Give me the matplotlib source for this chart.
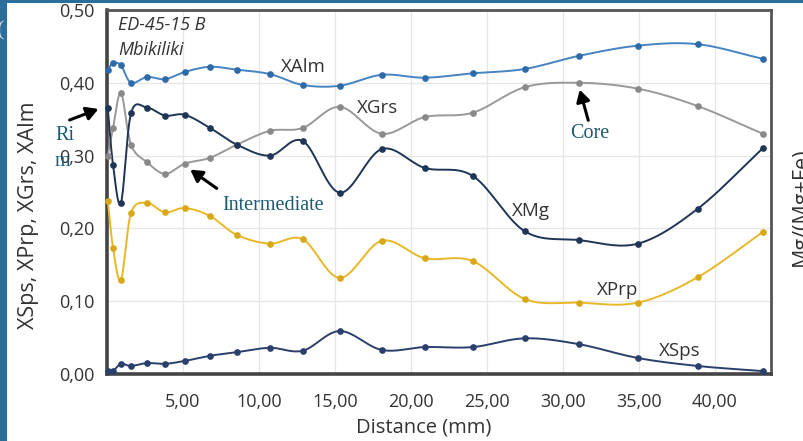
import numpy as np
import matplotlib
matplotlib.use("Agg")
import matplotlib.pyplot as plt
from matplotlib.patches import Rectangle

# ---- data ----
distance = [0.05, 0.4, 0.92, 1.58, 2.63, 3.82, 5.13, 6.78, 8.55, 10.72,
            12.89, 15.33, 18.09, 20.92, 24.08, 27.5, 31.05, 34.93, 38.88, 43.16]
x_alm = [0.418, 0.427, 0.424, 0.400, 0.408, 0.405, 0.415, 0.422, 0.418, 0.412,
         0.397, 0.396, 0.411, 0.407, 0.413, 0.419, 0.437, 0.451, 0.453, 0.433]
x_grs = [0.300, 0.338, 0.386, 0.315, 0.291, 0.275, 0.289, 0.297, 0.315, 0.334,
         0.338, 0.367, 0.330, 0.353, 0.359, 0.394, 0.400, 0.392, 0.368, 0.330]
x_mg = [0.365, 0.287, 0.235, 0.358, 0.366, 0.355, 0.356, 0.338, 0.315, 0.300,
        0.320, 0.249, 0.309, 0.283, 0.272, 0.196, 0.184, 0.179, 0.227, 0.310]
x_prp = [0.238, 0.173, 0.129, 0.221, 0.235, 0.222, 0.228, 0.217, 0.191, 0.179,
         0.185, 0.132, 0.183, 0.159, 0.155, 0.103, 0.098, 0.098, 0.133, 0.195]
x_sps = [0.004, 0.004, 0.014, 0.011, 0.015, 0.014, 0.018, 0.025, 0.030, 0.036,
         0.032, 0.059, 0.033, 0.037, 0.037, 0.049, 0.041, 0.022, 0.011, 0.004]
x_ticks = [5, 10, 15, 20, 25, 30, 35, 40]
x_tick_labels = ["5,00", "10,00", "15,00", "20,00", "25,00", "30,00", "35,00", "40,00"]
y_ticks = [0.0, 0.1, 0.2, 0.3, 0.4, 0.5]
y_tick_labels = ["0,00", "0,10", "0,20", "0,30", "0,40", "0,50"]

W, H = 804, 441
fig = plt.figure(figsize=(W / 100, H / 100), dpi=100)
fig.patch.set_facecolor("white")
blue = "#2a6e9c"
fig.patches.append(Rectangle((0, 0), 7 / W, 1, transform=fig.transFigure,
                             facecolor=blue, edgecolor="none", zorder=0))
fig.patches.append(Rectangle((0, 1 - 3 / H), 1, 3 / H, transform=fig.transFigure,
                             facecolor=blue, edgecolor="none", zorder=0))
fig.text(-3 / W, 1 - 31 / H, "(", color="#d8e4ee", fontsize=16, ha="left", va="center",
         family="Liberation Serif")

L, R, T, B = 107, 771, 10, 374
ax = fig.add_axes([L / W, 1 - B / H, (R - L) / W, (B - T) / H])
XMAX = 43.7
ax.set_xlim(0, XMAX)
ax.set_ylim(0, 0.5)

sx = (R - L) / XMAX
sy = (B - T) / 0.5


def smooth(xs, ys, n=20):
    P = np.column_stack([np.asarray(xs) * sx, np.asarray(ys) * sy])
    P = np.vstack([P[0] * 2 - P[1], P, P[-1] * 2 - P[-2]])
    out = []
    for i in range(1, len(P) - 2):
        p0, p1, p2, p3 = P[i - 1], P[i], P[i + 1], P[i + 2]
        t = np.linspace(0, 1, n)[:, None]
        c = 0.5 * ((2 * p1) + (-p0 + p2) * t + (2 * p0 - 5 * p1 + 4 * p2 - p3) * t ** 2
                   + (-p0 + 3 * p1 - 3 * p2 + p3) * t ** 3)
        out.append(c)
    C = np.vstack(out)
    return C[:, 0] / sx, C[:, 1] / sy


series = [
    (x_alm, "#4583c2", "#2f6aa8"),
    (x_grs, "#9a9898", "#8a8888"),
    (x_mg, "#1f3556", "#1f3556"),
    (x_prp, "#e8b828", "#d9a818"),
    (x_sps, "#2a3f6c", "#2a3f6c"),
]
for ys, lc, mc in series:
    xx, yy = smooth(distance, ys)
    ax.plot(xx, yy, color=lc, lw=1.4, zorder=3, solid_capstyle="round")
    ax.plot(distance, ys, "o", ms=3.8, color=mc, zorder=4, clip_on=False)

ax.set_xticks(x_ticks)
ax.set_xticklabels(x_tick_labels)
ax.set_yticks(y_ticks)
ax.set_yticklabels(y_tick_labels)
ax.tick_params(axis="y", length=0, labelsize=13, labelcolor="#333333", pad=9)
ax.tick_params(axis="x", length=0, labelsize=13, labelcolor="#333333", pad=14)
for lab in ax.get_xticklabels() + ax.get_yticklabels():
    lab.set_family("Open Sans")
ax.grid(True, color="#e6e6e6", lw=0.9)
ax.set_axisbelow(True)
for s in ["top", "right"]:
    ax.spines[s].set_color("#555555")
    ax.spines[s].set_linewidth(2.0)
for s in ["left", "bottom"]:
    ax.spines[s].set_color("#444444")
    ax.spines[s].set_linewidth(2.6)

fig.text(424 / W, 1 - 427 / H, "Distance (mm)", ha="center", va="center",
         fontsize=14.5, color="#333333", family="Open Sans")
fig.text(29 / W, 1 - 215 / H, "XSps, XPrp, XGrs, XAlm", rotation=90, ha="center", va="center",
         fontsize=15.5, color="#333333", family="Open Sans")
fig.text(801 / W, 1 - 207 / H, "Mg/(Mg+Fe)", rotation=90, ha="center", va="center",
         fontsize=15.5, color="#333333", family="Open Sans")

fig.text(118 / W, 1 - 25 / H, "ED-45-15 B", ha="left", va="center",
         fontsize=13, style="italic", color="#333333", family="Open Sans")
fig.text(118 / W, 1 - 50 / H, "Mbikiliki", ha="left", va="center",
         fontsize=13, style="italic", color="#333333", family="Open Sans")

lab_kw = dict(fontsize=13.5, color="#333333", family="Open Sans", ha="center", va="center", zorder=5)
ax.text(12.95, (374 - 67) / 728, "XAlm", **lab_kw)
ax.text(17.8, (374 - 108) / 728, "XGrs", **lab_kw)
ax.text(27.9, (374 - 211) / 728, "XMg", **lab_kw)
ax.text(33.6, (374 - 290) / 728, "XPrp", **lab_kw)
ax.text(37.7, (374 - 351) / 728, "XSps", **lab_kw)

teal = "#1b5a72"
ann_kw = dict(fontsize=14.5, color=teal, family="Liberation Serif")
fig.text(55 / W, 1 - 135 / H, "Ri", ha="left", va="center", **ann_kw)
fig.text(55 / W, 1 - 162 / H, "m", ha="left", va="center", **ann_kw)
fig.text(222 / W, 1 - 205 / H, "Intermediate", ha="left", va="center", **ann_kw)
fig.text(570 / W, 1 - 133 / H, "Core", ha="left", va="center", **ann_kw)

arrow = dict(arrowstyle="-|>,head_length=0.7,head_width=0.4", color="black", lw=2.2)


def px(x, y):
    return (x / W, 1 - y / H)


ax.annotate("", xy=px(101, 108), xycoords="figure fraction", xytext=px(67, 121),
            textcoords="figure fraction", arrowprops=arrow, annotation_clip=False)
ax.annotate("", xy=px(188, 168), xycoords="figure fraction", xytext=px(219, 190),
            textcoords="figure fraction", arrowprops=arrow, annotation_clip=False)
ax.annotate("", xy=px(579, 87), xycoords="figure fraction", xytext=px(589, 123),
            textcoords="figure fraction", arrowprops=arrow, annotation_clip=False)

fig.savefig("out.png", dpi=100, facecolor=fig.get_facecolor())
